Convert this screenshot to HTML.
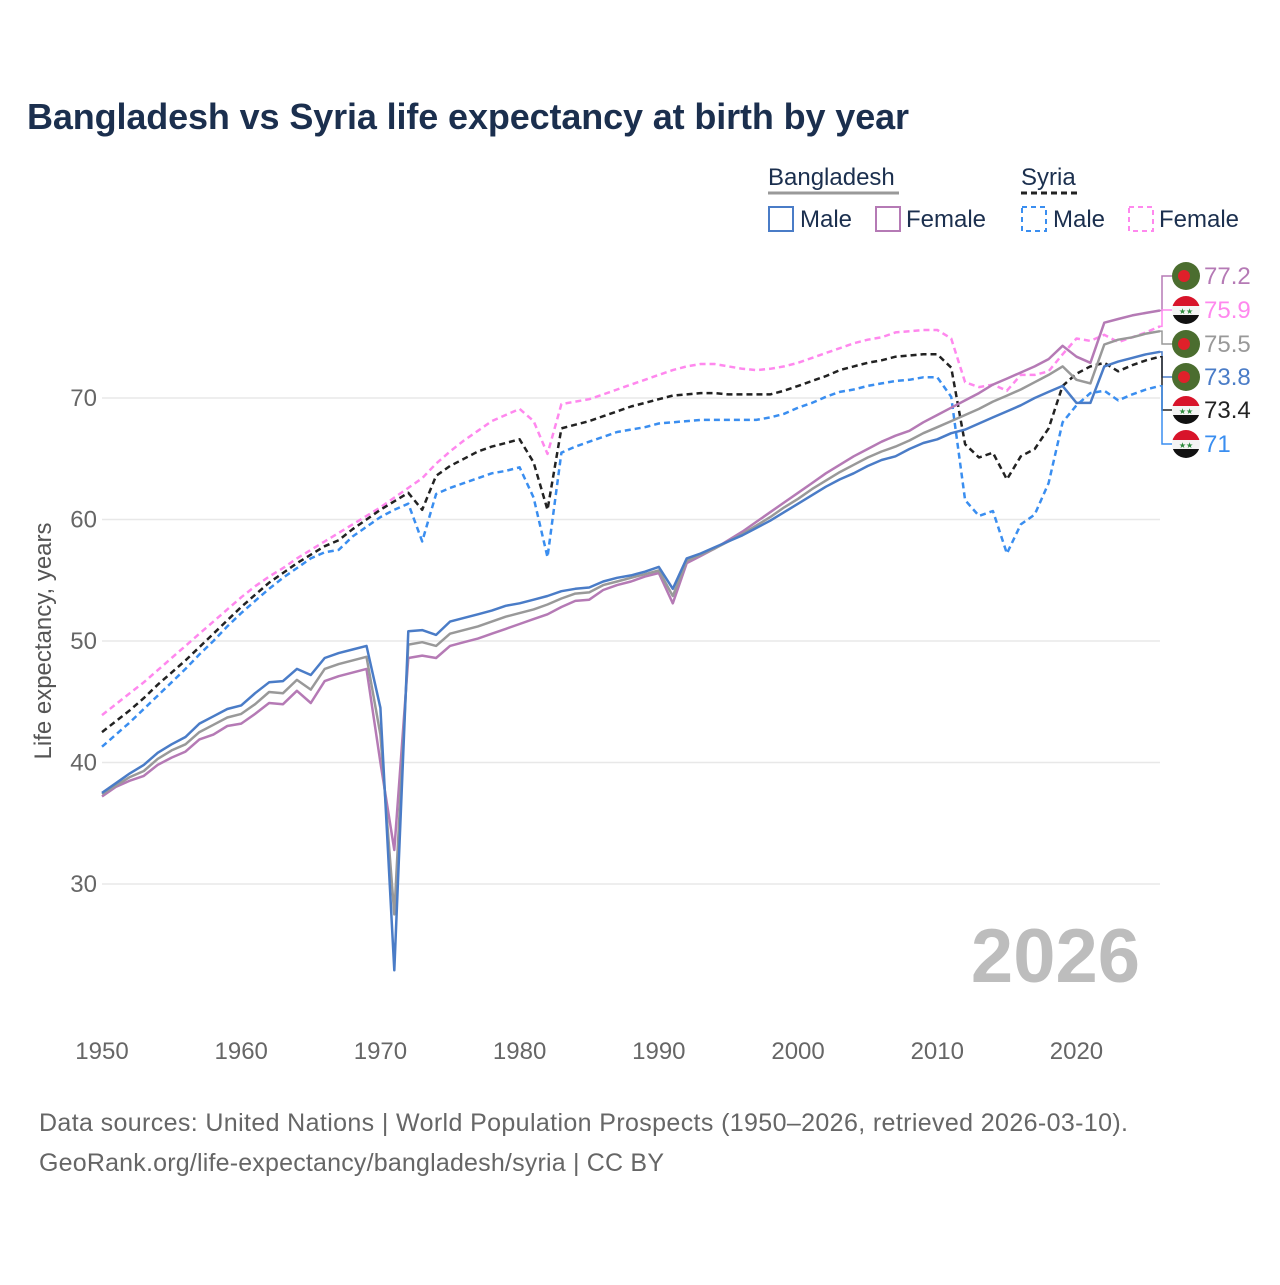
<!DOCTYPE html>
<html><head><meta charset="utf-8"><style>
body{margin:0;background:#fff;}
svg text{font-family:"Liberation Sans",sans-serif;}
</style></head><body>
<svg id="chart" width="1280" height="1280" viewBox="0 0 1280 1280" xmlns="http://www.w3.org/2000/svg">
<text x="27" y="129" font-size="36" font-weight="bold" fill="#1b2f4e" textLength="882">Bangladesh vs Syria life expectancy at birth by year</text>
<g font-size="24" fill="#1b2f4e">
<text x="768" y="185">Bangladesh</text>
<line x1="768" y1="193" x2="899" y2="193" stroke="#999" stroke-width="3"/>
<text x="1021" y="185">Syria</text>
<line x1="1021" y1="193" x2="1078" y2="193" stroke="#222" stroke-width="3" stroke-dasharray="6,4"/>
<rect x="769" y="207" width="24" height="24" fill="none" stroke="#4a7cc7" stroke-width="2"/>
<text x="800" y="227">Male</text>
<rect x="876" y="207" width="24" height="24" fill="none" stroke="#b57ab5" stroke-width="2"/>
<text x="906" y="227">Female</text>
<rect x="1022" y="207" width="24" height="24" fill="none" stroke="#3a8ef0" stroke-width="2" stroke-dasharray="5,4"/>
<text x="1053" y="227">Male</text>
<rect x="1129" y="207" width="24" height="24" fill="none" stroke="#ff88ee" stroke-width="2" stroke-dasharray="5,4"/>
<text x="1159" y="227">Female</text>
</g>
<g id="grid"></g>
<text x="1140" y="982" text-anchor="end" font-size="76" font-weight="bold" fill="#bdbdbd">2026</text>
<g id="series"></g>
<g id="labels"></g>
<text transform="translate(51,641) rotate(-90)" text-anchor="middle" font-size="24" fill="#555">Life expectancy, years</text>
<text x="39" y="1131" font-size="25" fill="#666" textLength="1089">Data sources: United Nations | World Population Prospects (1950–2026, retrieved 2026-03-10).</text>
<text x="39" y="1171" font-size="25" fill="#666" textLength="625">GeoRank.org/life-expectancy/bangladesh/syria | CC BY</text>
</svg>
<script>
const years=[];for(let y=1950;y<=2026;y++)years.push(y);
const yTicks=[30,40,50,60,70];
const xTicks=[1950,1960,1970,1980,1990,2000,2010,2020];
const bdMale=[37.5,38.3,39.1,39.8,40.8,41.5,42.1,43.2,43.8,44.4,44.7,45.7,46.6,46.7,47.7,47.2,48.6,49.0,49.3,49.6,44.5,22.9,50.8,50.9,50.5,51.6,51.9,52.2,52.5,52.9,53.1,53.4,53.7,54.1,54.3,54.4,54.9,55.2,55.4,55.7,56.1,54.3,56.8,57.2,57.7,58.2,58.7,59.3,59.9,60.6,61.3,62.0,62.7,63.3,63.8,64.4,64.9,65.2,65.8,66.3,66.6,67.1,67.4,67.9,68.4,68.9,69.4,70.0,70.5,71.0,69.6,69.6,72.6,73.0,73.3,73.6,73.8];
const bdFemale=[37.2,38.0,38.5,38.9,39.8,40.4,40.9,41.9,42.3,43.0,43.2,44.0,44.9,44.8,45.9,44.9,46.7,47.1,47.4,47.7,40.0,32.8,48.6,48.8,48.6,49.6,49.9,50.2,50.6,51.0,51.4,51.8,52.2,52.8,53.3,53.4,54.2,54.6,54.9,55.3,55.6,53.1,56.4,57.0,57.6,58.3,59.0,59.8,60.6,61.4,62.2,63.0,63.8,64.5,65.2,65.8,66.4,66.9,67.3,68.0,68.6,69.2,69.8,70.4,71.1,71.6,72.1,72.6,73.2,74.3,73.4,72.9,76.2,76.5,76.8,77.0,77.2];
const bdTotal=[37.4,38.1,38.8,39.3,40.3,41.0,41.5,42.5,43.1,43.7,44.0,44.8,45.8,45.7,46.8,46.0,47.7,48.1,48.4,48.7,42.3,27.5,49.7,49.9,49.6,50.6,50.9,51.2,51.6,52.0,52.3,52.6,53.0,53.5,53.9,54.0,54.6,54.9,55.2,55.5,55.8,53.7,56.6,57.1,57.6,58.2,58.8,59.5,60.2,61.0,61.7,62.5,63.2,63.9,64.5,65.1,65.6,66.0,66.5,67.1,67.6,68.1,68.6,69.1,69.7,70.2,70.7,71.3,71.9,72.6,71.5,71.2,74.4,74.8,75.0,75.3,75.5];
const syTotal=[42.5,43.4,44.3,45.3,46.4,47.4,48.4,49.5,50.6,51.7,52.8,53.8,54.8,55.6,56.4,57.1,57.8,58.3,59.2,60.0,60.8,61.5,62.2,60.8,63.6,64.4,65.0,65.6,66.0,66.3,66.6,64.7,60.8,67.5,67.8,68.1,68.5,68.9,69.3,69.6,69.9,70.2,70.3,70.4,70.4,70.3,70.3,70.3,70.3,70.6,71.0,71.4,71.8,72.3,72.6,72.9,73.1,73.4,73.5,73.6,73.6,72.5,66.2,65.1,65.5,63.3,65.2,65.8,67.5,71.0,72.0,72.6,72.9,72.2,72.7,73.1,73.4];
const syMale=[41.3,42.3,43.3,44.4,45.5,46.6,47.7,48.9,50.0,51.2,52.3,53.3,54.3,55.2,56.0,56.8,57.3,57.5,58.6,59.4,60.2,60.8,61.3,58.2,62.1,62.6,63.0,63.4,63.8,64.0,64.3,61.8,56.9,65.5,66.0,66.4,66.8,67.2,67.4,67.6,67.9,68.0,68.1,68.2,68.2,68.2,68.2,68.2,68.4,68.7,69.2,69.6,70.1,70.5,70.7,71.0,71.2,71.4,71.5,71.7,71.7,70.1,61.6,60.3,60.7,57.2,59.6,60.4,63.0,68.0,69.4,70.4,70.6,69.8,70.3,70.7,71.0];
const syFemale=[43.9,44.8,45.7,46.6,47.6,48.6,49.6,50.6,51.6,52.6,53.6,54.5,55.3,56.0,56.8,57.5,58.2,58.9,59.6,60.3,61.0,61.8,62.6,63.4,64.6,65.6,66.5,67.3,68.1,68.6,69.1,68.1,65.4,69.5,69.7,69.9,70.3,70.7,71.1,71.5,71.9,72.3,72.6,72.8,72.8,72.6,72.4,72.3,72.4,72.6,72.9,73.3,73.7,74.1,74.5,74.8,75.0,75.4,75.5,75.6,75.6,74.9,71.3,70.9,71.1,70.6,71.9,71.9,72.2,73.6,74.9,74.7,75.2,74.6,75.0,75.4,75.9];
const NS='http://www.w3.org/2000/svg';
function xs(y){return 102+(y-1950)*(1058/76);}
function ys(v){return 398+(70-v)*12.15;}
function mk(tag,attrs,parent){const e=document.createElementNS(NS,tag);for(const k in attrs)e.setAttribute(k,attrs[k]);parent.appendChild(e);return e;}
const grid=document.getElementById('grid');
yTicks.forEach(t=>{
  const l=mk('line',{x1:102,x2:1160,y1:ys(t),y2:ys(t),stroke:'#e8e8e8','stroke-width':1.5},grid);
  
  
  const tx=mk('text',{x:97,y:ys(t)+8,'text-anchor':'end','font-size':24,fill:'#666'},grid);
  tx.textContent=t;
  
  
});
xTicks.forEach(t=>{
  const tx=mk('text',{x:xs(t),y:1059,'text-anchor':'middle','font-size':24,fill:'#666'},grid);
  tx.textContent=t;
  
  
});
const sg=document.getElementById('series');
const defs=[
 ['syria-female-line',syFemale,'#ff88ee','6,4'],
 ['syria-male-line',syMale,'#3a8ef0','6,4'],
 ['syria-total-line',syTotal,'#222','6,4'],
 ['bangladesh-female-line',bdFemale,'#b57ab5',null],
 ['bangladesh-total-line',bdTotal,'#999',null],
 ['bangladesh-male-line',bdMale,'#4a7cc7',null]];
defs.forEach(d=>{
  const pts=d[1].map((v,i)=>xs(years[i]).toFixed(1)+','+ys(v).toFixed(1)).join(' ');
  const a={points:pts,fill:'none',stroke:d[2],'stroke-width':2.5,'stroke-linejoin':'round'};
  if(d[3])a['stroke-dasharray']=d[3];
  const p=mk('polyline',a,sg);
  
  
});
const lg=document.getElementById('labels');
const labels=[
 ['label-bd-female',bdFemale,'#b57ab5','bd',276],
 ['label-sy-female',syFemale,'#ff88ee','sy',310],
 ['label-bd-total',bdTotal,'#999','bd',344],
 ['label-bd-male',bdMale,'#4a7cc7','bd',377],
 ['label-sy-total',syTotal,'#222','sy',410],
 ['label-sy-male',syMale,'#3a8ef0','sy',444]];
labels.forEach(L=>{
  const v=L[1][L[1].length-1];const ly=L[4];const ey=ys(v);
  const c=mk('polyline',{points:`1160,${ey} 1162,${ey} 1162,${ly} 1172,${ly}`,fill:'none',stroke:L[2],'stroke-width':1.5},lg);
  
  
  const g=mk('g',{},lg);
  
  
  if(L[3]==='bd'){
    mk('circle',{cx:1186,cy:ly,r:14,fill:'#4b6d2f'},g);
    mk('circle',{cx:1184,cy:ly,r:6,fill:'#e0202a'},g);
  }else{
    const id='clip'+L[0];
    const cp=mk('clipPath',{id:id},g);mk('circle',{cx:1186,cy:ly,r:14},cp);
    const gg=mk('g',{'clip-path':'url(#'+id+')'},g);
    mk('rect',{x:1172,y:ly-14,width:28,height:10,fill:'#d8142a'},gg);
    mk('rect',{x:1172,y:ly-4,width:28,height:9,fill:'#f4f4f4'},gg);
    mk('rect',{x:1172,y:ly+5,width:28,height:10,fill:'#111'},gg);
    const st=mk('text',{x:1186,y:ly+4,'text-anchor':'middle','font-size':8,fill:'#2a8a3a'},gg);st.textContent='★★';
  }
  const t=mk('text',{x:1204,y:ly+8,'font-size':24,fill:L[2]},lg);
  t.textContent=String(Math.round(v*10)/10);
  
  
});
</script>
</body></html>
